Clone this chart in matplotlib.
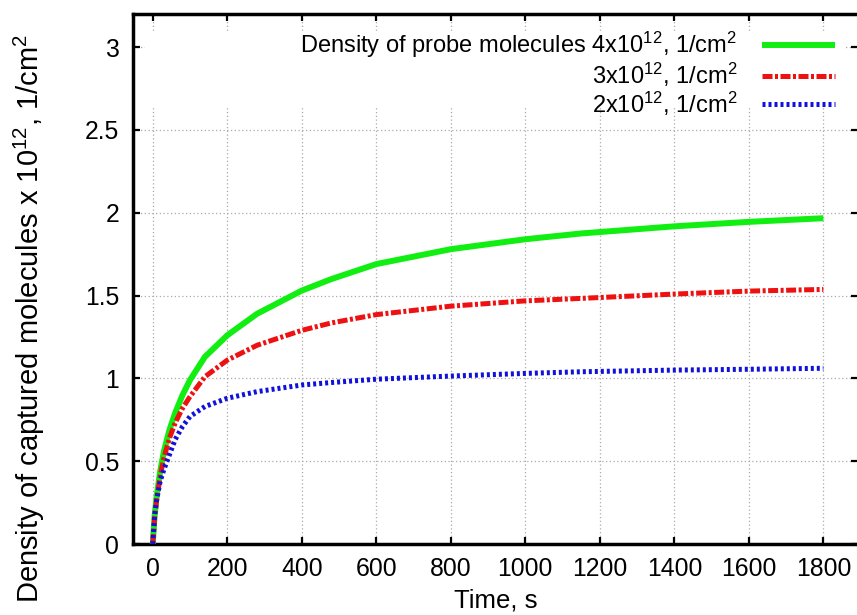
import matplotlib
matplotlib.use("Agg")
import matplotlib.pyplot as plt
from matplotlib.patches import Rectangle

plt.rcParams['font.family'] = ['Liberation Sans', 'DejaVu Sans']
plt.rcParams['mathtext.fontset'] = 'custom'
plt.rcParams['mathtext.rm'] = 'Liberation Sans'
plt.rcParams['mathtext.it'] = 'Liberation Sans:italic'
plt.rcParams['mathtext.default'] = 'regular'

time_s = [0, 5, 10, 20, 30, 45, 60, 80, 100, 140, 200, 280, 400, 480, 600, 800, 1000, 1150, 1400, 1600, 1800]
green_4e12 = [0, 0.17, 0.28, 0.44, 0.56, 0.69, 0.79, 0.90, 0.99, 1.13, 1.26, 1.39, 1.53, 1.60, 1.69, 1.78, 1.84, 1.875, 1.918, 1.945, 1.967]
red_3e12 = [0, 0.16, 0.26, 0.41, 0.52, 0.64, 0.73, 0.82, 0.89, 1.01, 1.11, 1.20, 1.29, 1.335, 1.385, 1.436, 1.468, 1.483, 1.509, 1.527, 1.537]
blue_2e12 = [0, 0.17, 0.26, 0.38, 0.45, 0.54, 0.63, 0.71, 0.77, 0.83, 0.88, 0.92, 0.96, 0.975, 0.995, 1.014, 1.03, 1.04, 1.05, 1.055, 1.061]

labels = ['Density of probe molecules 4x10$^{12}$, 1/cm$^2$',
          '3x10$^{12}$, 1/cm$^2$',
          '2x10$^{12}$, 1/cm$^2$']
xticks = [0, 200, 400, 600, 800, 1000, 1200, 1400, 1600, 1800]
yticks = [0, 0.5, 1, 1.5, 2, 2.5, 3]
ytick_labels = ['0', '0.5', '1', '1.5', '2', '2.5', '3']

W, H = 857, 615
fig = plt.figure(figsize=(W / 100, H / 100), dpi=100)
l, r, b, t = 133, 858, 544, 14
ax = fig.add_axes([l / W, (H - b) / H, (r - l) / W, (b - t) / H])

ax.plot(time_s, green_4e12, color='#11ee11', lw=4.3, solid_capstyle='butt', label=labels[0], zorder=3)
ax.plot(time_s, red_3e12, color='#ee1111', lw=3.6, linestyle=(0, (2.0, 0.5, 0.6, 0.5)), label=labels[1], zorder=3)
ax.plot(time_s, blue_2e12, color='#1111dd', lw=3.6, linestyle=(0, (0.6, 0.6)), label=labels[2], zorder=3)

ax.set_xlim(-53, 1893)
ax.set_ylim(0, 3.2)
ax.set_xticks(xticks)
ax.set_xticklabels([str(v) for v in xticks])
ax.set_yticks(yticks)
ax.set_yticklabels(ytick_labels)
ax.tick_params(direction='in', length=5, width=1.6, labelsize=17.8, top=True, right=True, colors='black')
ax.tick_params(axis='x', pad=9)
ax.tick_params(axis='y', pad=10)
ax.set_axisbelow(True)
ax.grid(True, linestyle=(0, (1, 2)), color='#aaaaaa', lw=0.9)
for s in ax.spines.values():
    s.set_linewidth(2.5)

# opaque key area (hides grid under the key, like the original)
ax.add_patch(Rectangle(((145 - l) / (r - l), (b - 107) / (b - t)), (845 - 145) / (r - l), (107 - 33) / (b - t),
                       transform=ax.transAxes, facecolor='white', edgecolor='none', zorder=1))

leg = ax.legend(loc='upper right', bbox_to_anchor=((835 - l) / (r - l), (b - 30) / (b - t)),
                frameon=False, markerfirst=False, fontsize=17, handlelength=3.1,
                handletextpad=1.05, labelspacing=0.02, borderaxespad=0, borderpad=0)

ax.set_xlabel('Time, s', fontsize=18.5, labelpad=6)
ax.set_ylabel('Density of captured molecules x 10$^{12}$, 1/cm$^2$', fontsize=21)
ax.yaxis.set_label_coords((47 - l) / (r - l), (b - 319) / (b - t))

fig.savefig('out.png', dpi=100)
